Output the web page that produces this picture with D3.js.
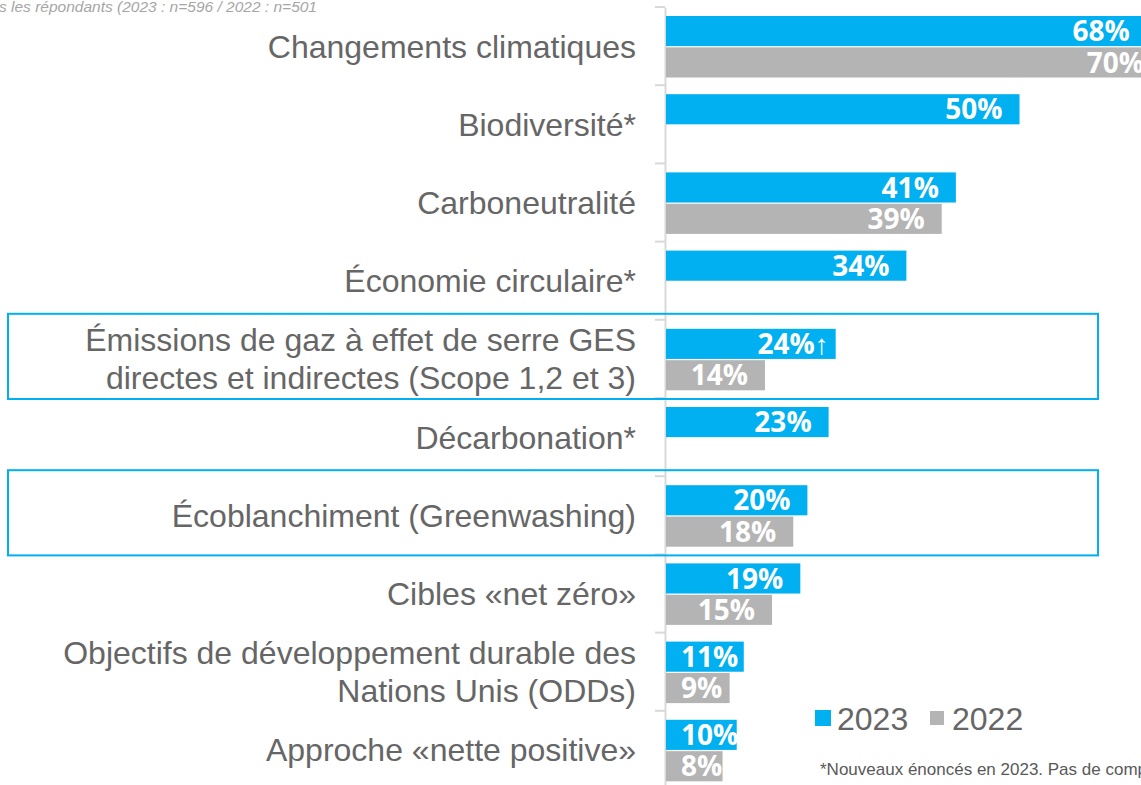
<!DOCTYPE html>
<html><head><meta charset="utf-8">
<script src="https://cdn.jsdelivr.net/npm/d3@7"></script>
<style>body{margin:0;background:#fff;overflow:hidden}</style>
</head><body>
<svg id="c" width="1141" height="785"></svg>
<script>
const categories = [
  ["Changements climatiques"],
  ["Biodiversité*"],
  ["Carboneutralité"],
  ["Économie circulaire*"],
  ["Émissions de gaz à effet de serre GES", "directes et indirectes (Scope 1,2 et 3)"],
  ["Décarbonation*"],
  ["Écoblanchiment (Greenwashing)"],
  ["Cibles «net zéro»"],
  ["Objectifs de développement durable des", "Nations Unis (ODDs)"],
  ["Approche «nette positive»"]
];
const values2023 = [68, 50, 41, 34, 24, 23, 20, 19, 11, 10];
const values2022 = [70, null, 39, null, 14, null, 18, 15, 9, 8];
const marks2023 = ["", "", "", "", "↑", "", "", "", "", ""];
const highlighted = [4, 6];
const seriesNames = ["2023", "2022"];
const baseNote = "Base : tous les répondants (2023 : n=596 / 2022 : n=501";
const footNote = "*Nouveaux énoncés en 2023. Pas de comparaison possible avec 2022.";

const BLUE = "#00B0F0", GREY = "#B4B4B4", TXT = "#666666";
const svg = d3.select("#c");
const ids = categories.map((d, i) => i);

const y = d3.scaleBand().domain(ids).range([7, 7 + 78.2 * 10]);
const sub = d3.scaleBand().domain(seriesNames).range([9, 70.5]).paddingInner(0.04);
const x = d3.scaleLinear().domain([0, 70]).range([666, 666 + 70 * 7.07]);

// axis line with ticks
const axis = d3.axisLeft(y).tickSize(0).tickFormat("");
const ag = svg.append("g").attr("transform", "translate(665,0)").call(axis);
ag.select(".domain").attr("stroke", "#d9d9d9").attr("stroke-width", 2);
ag.selectAll(".tick").remove();
ids.forEach(i => {
  svg.append("line").attr("x1", 655).attr("x2", 665)
    .attr("y1", y(i)).attr("y2", y(i)).attr("stroke", "#d9d9d9").attr("stroke-width", 2);
});

// highlight boxes
highlighted.forEach(i => {
  svg.append("rect").attr("x", 8).attr("y", y(i) - 6)
    .attr("width", 1090).attr("height", y.bandwidth() + 7)
    .attr("fill", "none").attr("stroke", BLUE).attr("stroke-width", 2);
});

// bars
const rows = svg.append("g").selectAll("g").data(ids).join("g")
  .attr("transform", i => `translate(0,${y(i)})`);

function drawBars(vals, key, color, marks) {
  rows.filter(i => vals[i] != null).append("rect")
    .attr("x", x(0)).attr("y", sub(key))
    .attr("width", i => x(vals[i]) - x(0)).attr("height", sub.bandwidth())
    .attr("fill", color);
  rows.filter(i => vals[i] != null).append("text")
    .attr("y", sub(key) + sub.bandwidth() / 2).attr("dy", "0.36em")
    .attr("font-family", "'Open Sans', sans-serif").attr("font-weight", "bold")
    .attr("font-size", 28).attr("fill", "#fff").attr("text-anchor", "end")
    .text(i => vals[i] + "%" + (marks ? marks[i] : ""))
    .each(function(i) {
      const w = this.getComputedTextLength();
      const xe = Math.max(x(vals[i]) - 17 + (marks && marks[i] ? 10 : 0), x(0) + 15 + w);
      d3.select(this).attr("x", xe);
    });
}
drawBars(values2023, "2023", BLUE, marks2023);
drawBars(values2022, "2022", GREY, null);

// category labels
rows.append("text")
  .attr("font-family", "'Liberation Sans', Arial, sans-serif").attr("font-size", 32)
  .attr("fill", TXT).attr("text-anchor", "end")
  .each(function(i) {
    const lines = categories[i];
    const t = d3.select(this);
    lines.forEach((l, k) => {
      t.append("tspan").attr("x", 636)
        .attr("y", y.bandwidth() / 2 + (k - (lines.length - 1) / 2) * 38)
        .attr("dy", "0.36em").text(l);
    });
  });

// legend
const leg = svg.append("g").attr("font-family", "'Liberation Sans', Arial, sans-serif");
const legItems = [{n: seriesNames[0], c: BLUE, x: 815, s: 16}, {n: seriesNames[1], c: GREY, x: 930, s: 14}];
legItems.forEach(d => {
  leg.append("rect").attr("x", d.x).attr("y", 718 - d.s / 2).attr("width", d.s).attr("height", d.s).attr("fill", d.c);
  leg.append("text").attr("x", d.x + 22).attr("y", 718).attr("dy", "0.36em")
    .attr("font-size", 32).attr("fill", TXT).text(d.n);
});

// footnote
svg.append("text").attr("x", 820).attr("y", 775)
  .attr("font-family", "'Liberation Sans', Arial, sans-serif").attr("font-size", 17)
  .attr("fill", "#595959").text(footNote);

// base note (cut off at left)
const bn = svg.append("text").attr("y", 12)
  .attr("font-family", "'Liberation Sans', Arial, sans-serif").attr("font-size", 15.5)
  .attr("font-style", "italic").attr("fill", "#a6a6a6").text("Base : tou");
const pw = bn.node().getComputedTextLength();
bn.text(baseNote).attr("x", -pw - 1);
</script>
</body></html>
